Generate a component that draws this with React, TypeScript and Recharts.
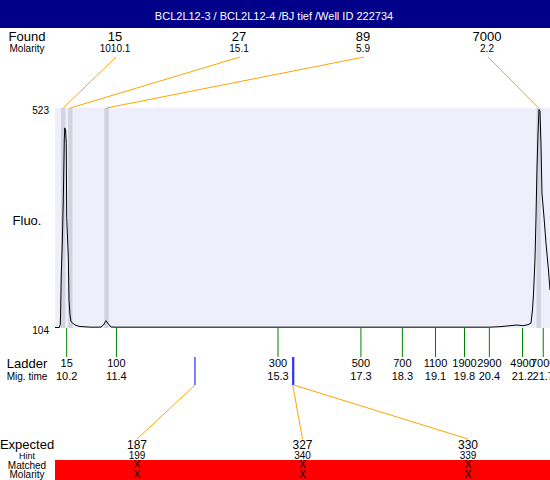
import React from 'react';
import {
  ComposedChart,
  Line,
  XAxis,
  YAxis,
  CartesianGrid,
  ReferenceArea,
  ReferenceLine,
} from 'recharts';

const FONT = '"Liberation Sans", Arial, Helvetica, sans-serif';

// ---- data ----
const traceTime = [
  9.918, 10.026, 10.046, 10.053, 10.07, 10.094, 10.118, 10.142, 10.154, 10.173,
  10.19, 10.2, 10.239, 10.256, 10.28, 10.304, 10.352, 10.424, 10.521, 10.762,
  11.028, 11.088, 11.148, 11.209, 11.269, 11.366, 13.417, 15.83, 18.243, 20.415,
  20.656, 20.825, 21.066, 21.211, 21.332, 21.404, 21.44, 21.464, 21.5, 21.524,
  21.548, 21.573, 21.597, 21.621, 21.645, 21.669, 21.718, 21.766, 21.826, 21.863,
];
const traceFluo = [
  105, 105, 111.6, 132.6, 208.8, 265.9, 347.8, 462, 485, 481,
  456, 315, 239, 157, 128.8, 116.4, 112.6, 108.8, 106.9, 105.6,
  105.6, 109.7, 117.9, 111.6, 105.9, 105.6, 105.6, 105.6, 105.6, 105.6,
  106.5, 107.8, 109.7, 108.4, 110.3, 113, 138.3, 166.9, 233.5, 309.7,
  405, 471.6, 520, 517, 456, 361, 315.4, 266, 214.5, 176.4,
];

const ladderSize = ['15', '100', '300', '500', '700', '1100', '1900', '2900', '4900', '7000'];
const ladderTime = [10.2, 11.4, 15.3, 17.3, 18.3, 19.1, 19.8, 20.4, 21.2, 21.7];

const foundSize = ['15', '27', '89', '7000'];
const foundMolarity = ['1010.1', '15.1', '5.9', '2.2'];
const foundTime = [10.116, 10.287, 11.16, 21.59];

const expectedSize = ['187', '327', '330'];
const expectedHint = ['199', '340', '339'];
const expectedMatched = ['X', 'X', 'X'];
const expectedMolarity = ['X', 'X', 'X'];
const expectedTime = [13.296, 15.655, 15.68];

const yTicks = [104, 523];
const xDomain: [number, number] = [9.918, 21.863];
const bandHalfWidth = 0.052;

const title = 'BCL2L12-3 / BCL2L12-4 /BJ tief /Well ID 222734';

const traceData = traceTime.map((t, i) => ({ t, v: traceFluo[i] }));

// ---- layout ----
const W = 550;
const H = 480;
const PLOT_TOP = 108;
const PLOT_BOTTOM = 328;
const PLOT_LEFT = 55;
const XAXIS_H = 30;

const FOUND_SLOT0 = 115;
const FOUND_STEP = 124;
const EXP_SLOT0 = 137;
const EXP_STEP = 165.5;

const ORANGE = '#ffa500';

const LadderTick = (props: any) => {
  const { x, y, payload } = props;
  const i = ladderTime.indexOf(payload.value);
  return (
    <g>
      <line x1={x} y1={y} x2={x} y2={y + 29} stroke="#008000" strokeWidth={1} />
      <text x={x} y={y + 39} textAnchor="middle" fontSize={11} fontFamily={FONT} fill="#000">
        {ladderSize[i]}
      </text>
      <text x={x} y={y + 52} textAnchor="middle" fontSize={11} fontFamily={FONT} fill="#000">
        {ladderTime[i].toFixed(1)}
      </text>
    </g>
  );
};

const FluoTick = (props: any) => {
  const { x, y, payload } = props;
  return (
    <text x={x} y={y + 5.5} textAnchor="end" fontSize={10} fontFamily={FONT} fill="#000">
      {payload.value}
    </text>
  );
};

const makeFoundShape = (i: number) => (props: any) => {
  const x = props.x1;
  const top = Math.min(props.y1, props.y2);
  const slotX = FOUND_SLOT0 + i * FOUND_STEP;
  return (
    <g>
      <line x1={slotX + 1} y1={57} x2={x} y2={top} stroke={ORANGE} strokeWidth={1} />
      <text x={slotX} y={40.7} textAnchor="middle" fontSize={13} fontFamily={FONT} fill="#000">
        {foundSize[i]}
      </text>
      <text x={slotX} y={52} textAnchor="middle" fontSize={10} fontFamily={FONT} fill="#000">
        {foundMolarity[i]}
      </text>
    </g>
  );
};

const makeExpectedShape = (i: number) => (props: any) => {
  const x = props.x1;
  const bottom = Math.max(props.y1, props.y2);
  const slotX = EXP_SLOT0 + i * EXP_STEP;
  return (
    <g>
      <line x1={x} y1={bottom + 29} x2={x} y2={bottom + 57} stroke="#0000ff" strokeWidth={1} />
      <line x1={x} y1={bottom + 57} x2={slotX} y2={439} stroke={ORANGE} strokeWidth={1} />
      <text x={slotX} y={448.5} textAnchor="middle" fontSize={12} fontFamily={FONT} fill="#000">
        {expectedSize[i]}
      </text>
      <text x={slotX} y={458.6} textAnchor="middle" fontSize={10} fontFamily={FONT} fill="#000">
        {expectedHint[i]}
      </text>
      <text x={slotX} y={468} textAnchor="middle" fontSize={10} fontFamily={FONT} fill="#000">
        {expectedMatched[i]}
      </text>
      <text x={slotX} y={477.8} textAnchor="middle" fontSize={10} fontFamily={FONT} fill="#000">
        {expectedMolarity[i]}
      </text>
    </g>
  );
};

const leftLabel = (txt: string, y: number, size: number) => (
  <text x={27} y={y} textAnchor="middle" fontSize={size} fontFamily={FONT} fill="#000">
    {txt}
  </text>
);

export default function App() {
  return (
    <div style={{ position: 'absolute', left: 0, top: 0, width: W, height: H, background: '#fff' }}>
      <svg width={W} height={H} style={{ position: 'absolute', left: 0, top: 0 }}>
        <rect x={0} y={0} width={W} height={28} fill="#000088" />
        <text x={274} y={19.8} textAnchor="middle" fontSize={11} fontFamily={FONT} fill="#fff">
          {title}
        </text>
        {leftLabel('Found', 40.7, 13)}
        {leftLabel('Molarity', 52, 10)}
        {leftLabel('Fluo.', 224.7, 13)}
        {leftLabel('Ladder', 367.7, 13)}
        {leftLabel('Mig. time', 379.6, 10)}
        {leftLabel('Expected', 448.7, 13)}
        {leftLabel('Hint', 458.5, 9)}
        <rect x={PLOT_LEFT} y={460} width={W - PLOT_LEFT} height={20} fill="#ff0000" />
        {leftLabel('Matched', 469.3, 10)}
        {leftLabel('Molarity', 478, 10)}
      </svg>
      <div style={{ position: 'absolute', left: 0, top: 0 }}>
        <ComposedChart
          width={W}
          height={H}
          data={traceData}
          margin={{ top: PLOT_TOP, right: 0, left: 0, bottom: H - PLOT_BOTTOM - XAXIS_H }}
        >
          <CartesianGrid fill="#efeffc" stroke="none" horizontal={false} vertical={false} />
          <XAxis
            dataKey="t"
            type="number"
            domain={xDomain}
            allowDataOverflow
            ticks={ladderTime}
            interval={0}
            height={XAXIS_H}
            tickSize={0}
            tickMargin={0}
            axisLine={false}
            tickLine={false}
            tick={<LadderTick />}
          />
          <YAxis
            type="number"
            domain={[yTicks[0], yTicks[1]]}
            allowDataOverflow
            ticks={yTicks}
            width={PLOT_LEFT}
            tickSize={0}
            tickMargin={6}
            axisLine={false}
            tickLine={false}
            tick={<FluoTick />}
          />
          {foundTime.map((t, i) => (
            <ReferenceArea
              key={`band${i}`}
              x1={t - bandHalfWidth}
              x2={t + bandHalfWidth}
              y1={yTicks[0]}
              y2={yTicks[1]}
              fill="#d2d2e0"
              fillOpacity={1}
              stroke="none"
            />
          ))}
          <Line
            dataKey="v"
            type="linear"
            stroke="#000"
            strokeWidth={1}
            dot={false}
            activeDot={false}
            isAnimationActive={false}
          />
          {foundTime.map((t, i) => (
            <ReferenceLine key={`found${i}`} x={t} shape={makeFoundShape(i)} />
          ))}
          {expectedTime.map((t, i) => (
            <ReferenceLine key={`exp${i}`} x={t} shape={makeExpectedShape(i)} />
          ))}
        </ComposedChart>
      </div>
    </div>
  );
}
